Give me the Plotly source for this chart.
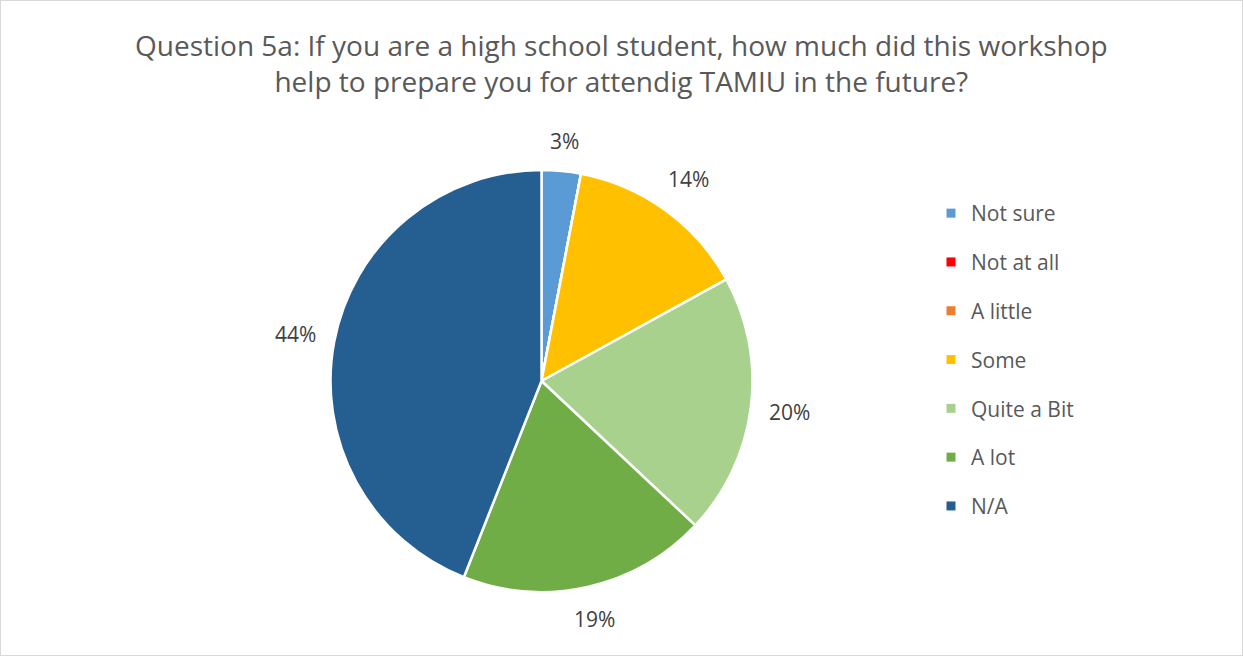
import math
import plotly.graph_objects as go

# Survey responses (percent of respondents)
categories = ["Not sure", "Not at all", "A little", "Some", "Quite a Bit", "A lot", "N/A"]
percents = [3, 0, 0, 14, 20, 19, 44]
colors = ["#5B9BD5", "#FF0000", "#ED7D31", "#FFC000", "#A9D18E", "#70AD47", "#255E91"]

title_text = ("Question 5a: If you are a high school student, how much did this workshop<br>"
              "help to prepare you for attendig TAMIU in the future?")

W, H = 1243, 656
cx, cy, r = 541.5, 381.0, 211.0  # pie centre and radius in pixels
FONT = "Open Sans, Noto Sans, sans-serif"

fig = go.Figure()
fig.add_trace(go.Pie(
    labels=categories,
    values=percents,
    marker=dict(colors=colors, line=dict(color="white", width=2.5)),
    sort=False,
    direction="clockwise",
    rotation=0,
    textinfo="none",
    hoverinfo="label+percent",
    showlegend=False,
    domain=dict(x=[(cx - r) / W, (cx + r) / W], y=[(H - cy - r) / H, (H - cy + r) / H]),
))

# Percentage labels placed just outside each slice's mid-angle
total = sum(percents)
cum = 0.0
label_font = dict(family=FONT, size=21, color="#404040")
for cat, val in zip(categories, percents):
    if val > 0:
        mid = (cum + val / 2) / total * 2 * math.pi
        txt = f"{round(val / total * 100)}%"
        hw = 7 * len(txt)
        hh = 12
        proj = abs(math.sin(mid)) * hw + abs(math.cos(mid)) * hh
        d = r + 17 + proj
        px = cx + d * math.sin(mid)
        py = cy - d * math.cos(mid)
        fig.add_annotation(x=px / W, y=1 - py / H, xref="paper", yref="paper",
                           text=txt, showarrow=False, font=label_font,
                           xanchor="center", yanchor="middle")
    cum += val

# Chart title
fig.add_annotation(x=0.5, y=1 - 24 / H, xref="paper", yref="paper", text=title_text,
                   showarrow=False, xanchor="center", yanchor="top", align="center",
                   font=dict(family=FONT, size=28, color="#595959"))

# Legend entries, one group each so the gap between rows can be set
for cat, col in zip(categories, colors):
    fig.add_trace(go.Scatter(
        x=[None], y=[None], mode="markers", name=cat, legendgroup=cat,
        marker=dict(symbol="square", size=9, color=col),
        showlegend=True, hoverinfo="skip",
    ))

fig.update_layout(
    width=W, height=H,
    margin=dict(l=0, r=0, t=0, b=0),
    paper_bgcolor="white", plot_bgcolor="white",
    xaxis=dict(visible=False), yaxis=dict(visible=False),
    legend=dict(x=931 / W, xanchor="left", y=1 - 193 / H, yanchor="top",
                font=dict(family=FONT, size=21, color="#595959"),
                tracegroupgap=18.5, bgcolor="rgba(0,0,0,0)"),
    shapes=[dict(type="rect", xref="paper", yref="paper", x0=0, y0=0, x1=1, y1=1,
                 line=dict(color="#D9D9D9", width=2), fillcolor="rgba(0,0,0,0)")],
)

fig.write_html("out.html")
